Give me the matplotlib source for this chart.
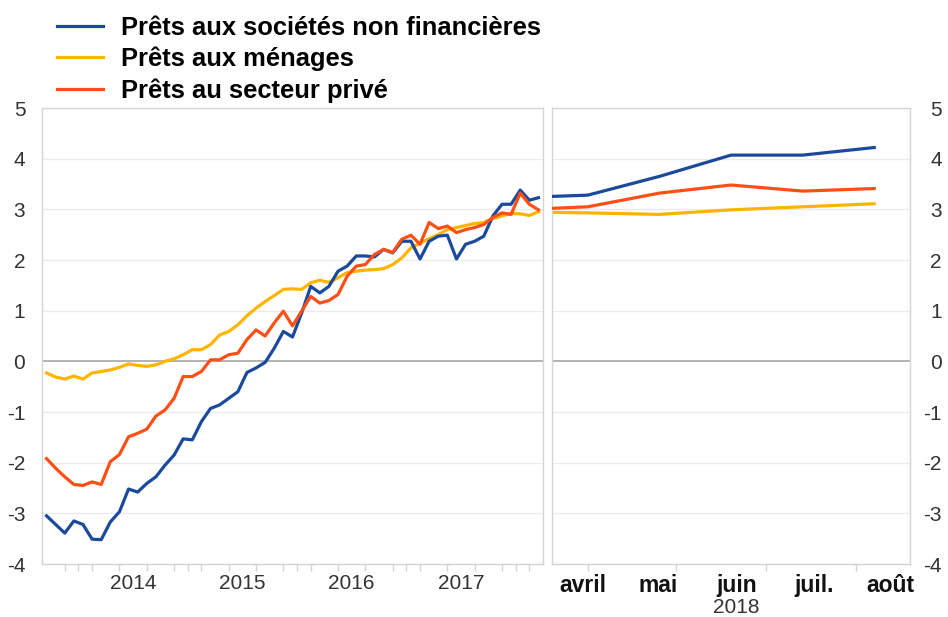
import numpy as np
import matplotlib
matplotlib.use("Agg")
import matplotlib.pyplot as plt
from matplotlib.ticker import FixedLocator

plt.rcParams['font.family'] = ['Liberation Sans', 'DejaVu Sans']
plt.rcParams['axes.unicode_minus'] = False

# monthly data, Sep 2013 - Mar 2018 (left panel)
nfc_hist = [-3.05, -3.22, -3.39, -3.15, -3.22, -3.51, -3.52, -3.17, -2.97, -2.52,
            -2.58, -2.41, -2.28, -2.05, -1.85, -1.53, -1.55, -1.19, -0.93,
            -0.86, -0.73, -0.60, -0.22, -0.13, -0.02, 0.26, 0.59, 0.48, 0.95,
            1.48, 1.35, 1.48, 1.78, 1.88, 2.08, 2.08,
            2.06, 2.21, 2.14, 2.37, 2.37, 2.02, 2.37, 2.47, 2.49, 2.02, 2.31,
            2.37, 2.47, 2.87, 3.10, 3.10, 3.38, 3.18, 3.23]
hh_hist = [-0.23, -0.31, -0.35, -0.29, -0.35, -0.23, -0.20, -0.17, -0.12, -0.05,
           -0.08, -0.10, -0.07, 0.00, 0.05, 0.13, 0.23, 0.23, 0.33,
           0.52, 0.59, 0.72, 0.90, 1.05, 1.18, 1.30, 1.42, 1.43, 1.42,
           1.55, 1.60, 1.56, 1.65, 1.75, 1.78, 1.80,
           1.81, 1.83, 1.91, 2.04, 2.24, 2.33, 2.42, 2.50, 2.60, 2.64, 2.68,
           2.72, 2.74, 2.82, 2.87, 2.92, 2.91, 2.88, 2.95]
priv_hist = [-1.92, -2.11, -2.28, -2.43, -2.45, -2.38, -2.43, -1.98, -1.84, -1.49,
             -1.42, -1.34, -1.08, -0.96, -0.73, -0.30, -0.30, -0.20, 0.03,
             0.03, 0.13, 0.16, 0.43, 0.62, 0.50, 0.76, 0.99, 0.70, 0.99,
             1.28, 1.15, 1.20, 1.32, 1.68, 1.88, 1.91,
             2.11, 2.21, 2.15, 2.41, 2.49, 2.31, 2.74, 2.62, 2.67, 2.54, 2.60,
             2.64, 2.70, 2.84, 2.93, 2.90, 3.32, 3.10, 2.99]
years = ['2014', '2015', '2016', '2017']

# April - August 2018 (right panel)
months = ['avril', 'mai', 'juin', 'juil.', 'août']
nfc_2018 = [3.28, 3.65, 4.07, 4.07, 4.22]
hh_2018 = [2.93, 2.90, 2.99, 3.05, 3.11]
priv_2018 = [3.05, 3.32, 3.48, 3.36, 3.41]

labels = ['Prêts aux sociétés non financières', 'Prêts aux ménages',
          'Prêts au secteur privé']
colors = ['#1b4a9c', '#ffb400', '#ff4f14']

W, H = 948, 617
fig = plt.figure(figsize=(W / 100, H / 100), dpi=100)


def px_axes(x0, x1, y0, y1):
    return fig.add_axes([x0 / W, 1 - y1 / H, (x1 - x0) / W, (y1 - y0) / H])


ax1 = px_axes(42, 543, 108, 564)
ax2 = px_axes(552, 910, 108, 564)

frame = '#d4d4d4'
grid = '#ebebeb'
tick_col = '#333333'

for ax in (ax1, ax2):
    ax.set_ylim(-4, 5)
    ax.set_yticks(range(-4, 6))
    for y in range(-4, 6):
        if y == 0:
            ax.axhline(0, color='#a6a6a6', lw=1.2, zorder=1)
        elif y != 5:
            ax.axhline(y, color=grid, lw=1.0, zorder=0)
    for s in ax.spines.values():
        s.set_color(frame)
        s.set_linewidth(1.0)
    ax.tick_params(axis='y', length=0, labelsize=15, labelcolor=tick_col)
    ax.tick_params(axis='x', which='major', length=0, labelsize=15,
                   labelcolor=tick_col, pad=7)
    ax.tick_params(axis='x', which='minor', length=5, color=frame, width=1)

# left panel
xl = np.arange(len(nfc_hist))
series_hist = [nfc_hist, hh_hist, priv_hist]
handles = []
for vals, c, lab, z in zip(series_hist, colors, labels, [3, 2, 4]):
    h, = ax1.plot(xl, vals, color=c, lw=2.3, label=lab, zorder=z,
                  solid_joinstyle='round')
    handles.append(h)
ax1.set_xlim(-0.5, 54.5)
ax1.set_xticks([9.5, 21.5, 33.5, 45.5])
ax1.set_xticklabels(years)
ax1.xaxis.set_minor_locator(FixedLocator(
    sorted(set(list(np.arange(2, 54, 3)) + list(np.arange(3.5, 54, 12))))))
ax1.tick_params(axis='y', pad=12)

# right panel (March value carried in so the line enters from the edge)
xr = np.arange(-1, len(months))
series_2018 = [nfc_2018, hh_2018, priv_2018]
for hist, vals, c, z in zip(series_hist, series_2018, colors, [3, 2, 4]):
    ax2.plot(xr, [hist[-1]] + vals, color=c, lw=2.3, zorder=z,
             solid_joinstyle='round')
ax2.set_xlim(-0.5, 4.5)
ax2.set_xticks([-0.07, 0.98, 2.08, 3.16, 4.22])
ax2.set_xticklabels(months, fontweight='bold', fontsize=16.5, color='#111111')
ax2.xaxis.set_minor_locator(FixedLocator([0, 1.23, 2.49, 3.74]))
ax2.yaxis.tick_right()
ax2.tick_params(axis='y', pad=23)
for t in ax2.get_yticklabels():
    t.set_horizontalalignment('right')
ax2.text(2.08, -0.095, '2018', transform=ax2.get_xaxis_transform(),
         ha='center', va='center', fontsize=15, color=tick_col)

fig.legend(handles=handles, loc='upper left',
           bbox_to_anchor=(57 / W, 1 - 16 / H), frameon=False,
           borderpad=0, borderaxespad=0, handlelength=1.8,
           handletextpad=0.72, labelspacing=0.27,
           prop={'weight': 'bold', 'size': 18.4})

fig.savefig('out.png', dpi=100)
